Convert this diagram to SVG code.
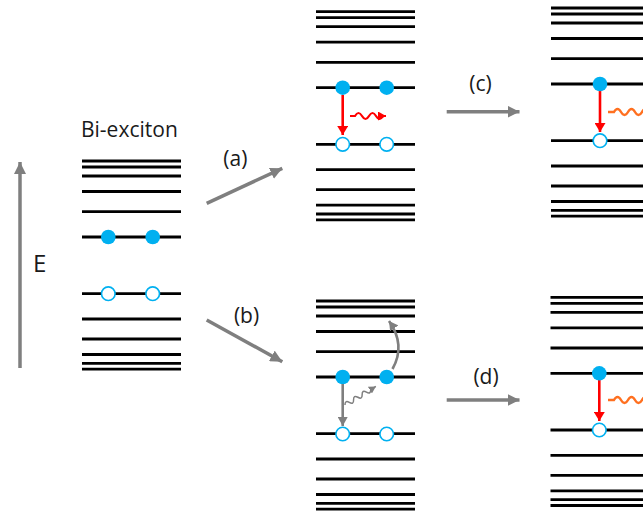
<svg xmlns="http://www.w3.org/2000/svg" xmlns:xlink="http://www.w3.org/1999/xlink" width="643" height="516" viewBox="0 0 643 516">
<style>
.lv{stroke:#000;stroke-width:2.8;fill:none}
.e{fill:#00B0F0;stroke:none}
.h{fill:#fff;stroke:#00B0F0;stroke-width:1.6}
.ga{stroke:#7f7f7f;stroke-width:3.5;fill:none}
.ra{stroke:#ff0000;stroke-width:2.6;fill:none}
.rw{stroke:#ff0000;stroke-width:2.2;fill:none}
.ow{stroke:#ff7020;stroke-width:2.4;fill:none}
.gs{stroke:#7f7f7f;stroke-width:2.6;fill:none}
.gw{stroke:#7f7f7f;stroke-width:1.5;fill:none}
.t{font-family:"Open Sans","Liberation Sans",sans-serif;fill:#1a1a1a}
</style>
<defs>
<g id="levels">
<line class="lv" x1="0" x2="99" y1="-76" y2="-76"/>
<line class="lv" x1="0" x2="99" y1="-70" y2="-70"/>
<line class="lv" x1="0" x2="99" y1="-61" y2="-61"/>
<line class="lv" x1="0" x2="99" y1="-45.5" y2="-45.5"/>
<line class="lv" x1="0" x2="99" y1="-25.3" y2="-25.3"/>
<line class="lv" x1="0" x2="99" y1="0" y2="0"/>
<line class="lv" x1="0" x2="99" y1="56.7" y2="56.7"/>
<line class="lv" x1="0" x2="99" y1="82" y2="82"/>
<line class="lv" x1="0" x2="99" y1="102" y2="102"/>
<line class="lv" x1="0" x2="99" y1="117.5" y2="117.5"/>
<line class="lv" x1="0" x2="99" y1="126.3" y2="126.3"/>
<line class="lv" x1="0" x2="99" y1="132.2" y2="132.2"/>
</g>
<marker id="gh" markerUnits="userSpaceOnUse" markerWidth="13" markerHeight="12" refX="12" refY="6" orient="auto"><path d="M0,0 L12,6 L0,12 z" fill="#7f7f7f"/></marker>
<marker id="gs" markerUnits="userSpaceOnUse" markerWidth="10" markerHeight="10" refX="9" refY="5" orient="auto"><path d="M0,0 L9,5 L0,10 z" fill="#7f7f7f"/></marker>
<marker id="gt" markerUnits="userSpaceOnUse" markerWidth="8" markerHeight="8" refX="7" refY="4" orient="auto"><path d="M0,0 L7,4 L0,8 z" fill="#7f7f7f"/></marker>
<marker id="rh" markerUnits="userSpaceOnUse" markerWidth="10" markerHeight="11" refX="9" refY="5.5" orient="auto"><path d="M0,0 L9,5.5 L0,11 z" fill="#ff0000"/></marker>
<marker id="rs" markerUnits="userSpaceOnUse" markerWidth="9" markerHeight="9" refX="8" refY="4.5" orient="auto"><path d="M0,0 L8,4.5 L0,9 z" fill="#ff0000"/></marker>
</defs>

<g id="energy-axis">
<line class="ga" x1="20" y1="368" x2="20" y2="162" marker-end="url(#gh)"/>
<text class="t" x="33" y="272" font-size="24">E</text>
</g>

<g id="biexciton">
<text class="t" x="81" y="136.7" font-size="21">Bi-exciton</text>
<use xlink:href="#levels" transform="translate(82,237)"/>
<circle class="e" cx="108.3" cy="237" r="7.3"/>
<circle class="e" cx="152.7" cy="237" r="7.3"/>
<circle class="h" cx="108.3" cy="293.7" r="6.8"/>
<circle class="h" cx="152.7" cy="293.7" r="6.8"/>
</g>

<g id="state-a">
<use xlink:href="#levels" transform="translate(316,87.7)"/>
<circle class="e" cx="342.7" cy="87.7" r="7.3"/>
<circle class="e" cx="386.7" cy="87.7" r="7.3"/>
<circle class="h" cx="342.7" cy="144.3" r="6.8"/>
<circle class="h" cx="386.7" cy="144.3" r="6.8"/>
<line class="ra" x1="342.7" y1="95" x2="342.7" y2="135" marker-end="url(#rh)"/>
<path class="rw" d="M350,116 L355,116 q3.5,-6 7,0 t7,0 t7,0 t7,0 L386,116" marker-end="url(#rs)"/>
</g>

<g id="state-c">
<use xlink:href="#levels" transform="translate(551,84)"/>
<line class="ra" x1="600" y1="91" x2="600" y2="132" marker-end="url(#rh)"/>
<circle class="e" cx="600" cy="84" r="7.3"/>
<circle class="h" cx="600" cy="140.7" r="6.8"/>
<path class="ow" d="M608,112 L614,112 q3.5,-6 7,0 t7,0 t7,0 t7,0 t7,0 t7,0"/>
</g>

<g id="state-b">
<use xlink:href="#levels" transform="translate(316,377)"/>
<circle class="e" cx="342.7" cy="377" r="7.3"/>
<circle class="e" cx="386.7" cy="377" r="7.3"/>
<circle class="h" cx="342.7" cy="434" r="6.8"/>
<circle class="h" cx="386.7" cy="434" r="6.8"/>
<line class="gs" x1="342.7" y1="384" x2="342.7" y2="426" marker-end="url(#gs)"/>
<path class="gw" transform="translate(345,405) rotate(-31)" d="M0,0 q2.5,-4.5 5,0 t5,0 t5,0 t5,0 t5,0 t5,0 L36,0" marker-end="url(#gt)"/>
<path class="gs" d="M392.5,369 Q406,345 389,321" marker-end="url(#gs)"/>
</g>

<g id="state-d">
<use xlink:href="#levels" transform="translate(550.5,373.3)"/>
<line class="ra" x1="599.3" y1="380" x2="599.3" y2="421" marker-end="url(#rh)"/>
<circle class="e" cx="599.3" cy="373.3" r="7.3"/>
<circle class="h" cx="599.3" cy="430" r="6.8"/>
<path class="ow" d="M608,400 L614,400 q3.5,-6 7,0 t7,0 t7,0 t7,0 t7,0 t7,0"/>
</g>

<g id="connectors">
<line class="ga" x1="206.7" y1="203.3" x2="282.3" y2="168.3" marker-end="url(#gh)"/>
<line class="ga" x1="206.7" y1="320" x2="282.3" y2="361.7" marker-end="url(#gh)"/>
<line class="ga" x1="446.7" y1="111.7" x2="519.5" y2="111.7" marker-end="url(#gh)"/>
<line class="ga" x1="446.7" y1="400" x2="519.5" y2="400" marker-end="url(#gh)"/>
<text class="t" x="235.3" y="165.7" font-size="21" text-anchor="middle">(a)</text>
<text class="t" x="246.5" y="323" font-size="21" text-anchor="middle">(b)</text>
<text class="t" x="480.5" y="90.7" font-size="21" text-anchor="middle">(c)</text>
<text class="t" x="486" y="383.5" font-size="21" text-anchor="middle">(d)</text>
</g>
</svg>
